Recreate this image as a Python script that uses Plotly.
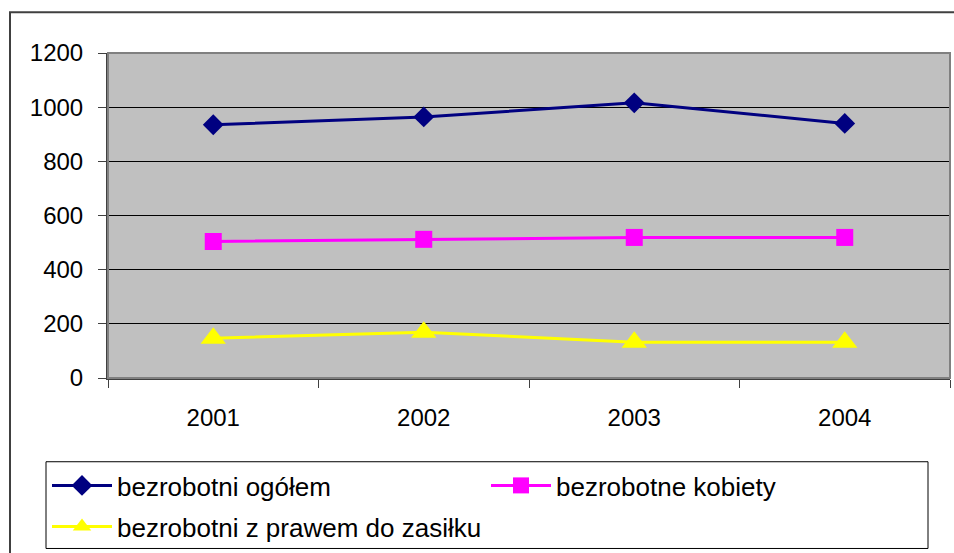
import plotly.graph_objects as go

years = ["2001", "2002", "2003", "2004"]
ogolem = [935, 964, 1016, 940]
kobiety = [504, 512, 519, 519]
zasilek = [147, 169, 132, 132]
yticks = [0, 200, 400, 600, 800, 1000, 1200]

W, H = 954, 553
PL, PR, PT, PB = 108, 950, 53, 379  # plot area in screen px
L, T = PL, PT
R, B = W - PR, H - PB
PW, PH = PR - PL, PB - PT

def px(x):
    return (x - PL) / PW

def py(y):
    return (PB - y) / PH

fig = go.Figure()
fig.add_trace(go.Scatter(x=years, y=ogolem, name="bezrobotni ogółem", mode="lines+markers",
                         line=dict(color="#000080", width=3), legend="legend",
                         marker=dict(symbol="diamond", size=16, color="#000080")))
fig.add_trace(go.Scatter(x=years, y=kobiety, name="bezrobotne kobiety", mode="lines+markers",
                         line=dict(color="#FF00FF", width=3), legend="legend",
                         marker=dict(symbol="square", size=17, color="#FF00FF")))
fig.add_trace(go.Scatter(x=years, y=zasilek, name="bezrobotni z prawem do zasiłku", mode="lines+markers",
                         line=dict(color="#FFFF00", width=3), legend="legend2",
                         marker=dict(symbol="triangle-up", size=22, color="#FFFF00")))

font = dict(family="Liberation Sans, Arial, sans-serif", size=24, color="black")
lfont = dict(family="Liberation Sans, Arial, sans-serif", size=26, color="black")

leg_common = dict(orientation="h", xanchor="left", yanchor="top",
                  bgcolor="rgba(0,0,0,0)", borderwidth=0, itemwidth=60,
                  entrywidth=364, entrywidthmode="pixels", font=lfont,
                  itemclick=False, itemdoubleclick=False)

fig.update_layout(
    width=W, height=H,
    margin=dict(l=L, r=R, t=T, b=B, pad=0),
    paper_bgcolor="white", plot_bgcolor="#C0C0C0",
    font=font,
    showlegend=True,
    hovermode=False,
    legend=dict(x=px(47), y=py(462), **leg_common),
    legend2=dict(x=px(47), y=py(503), **leg_common),
    shapes=[
        dict(type="rect", xref="paper", yref="paper", x0=px(10), x1=px(975), y0=py(580), y1=py(12),
             line=dict(color="#404040", width=2), layer="below"),
        dict(type="rect", xref="paper", yref="paper", x0=px(46), x1=px(928), y0=py(550), y1=py(463),
             line=dict(color="black", width=1), fillcolor="white", layer="below"),
    ],
)
fig.update_xaxes(type="category", showgrid=False, showline=True, linecolor="#404040", linewidth=2,
                 mirror=False, ticks="outside", tickson="boundaries", ticklen=8, tickcolor="#404040",
                 ticklabelstandoff=17, range=[-0.5, 3.5], fixedrange=True)
fig.update_yaxes(range=[0, 1200], tickvals=yticks, showgrid=True, gridcolor="black", gridwidth=1,
                 showline=True, linecolor="#404040", linewidth=2, ticks="outside", ticklen=8,
                 tickcolor="#404040", ticklabelstandoff=10, zeroline=False, fixedrange=True)
fig.add_shape(type="rect", xref="paper", yref="paper", x0=0, x1=1, y0=0, y1=1,
              line=dict(color="#808080", width=2), layer="above")

fig.write_html("out.html", config={"displayModeBar": False},
               post_script="document.body.style.margin='0';document.body.style.overflow='hidden';")
